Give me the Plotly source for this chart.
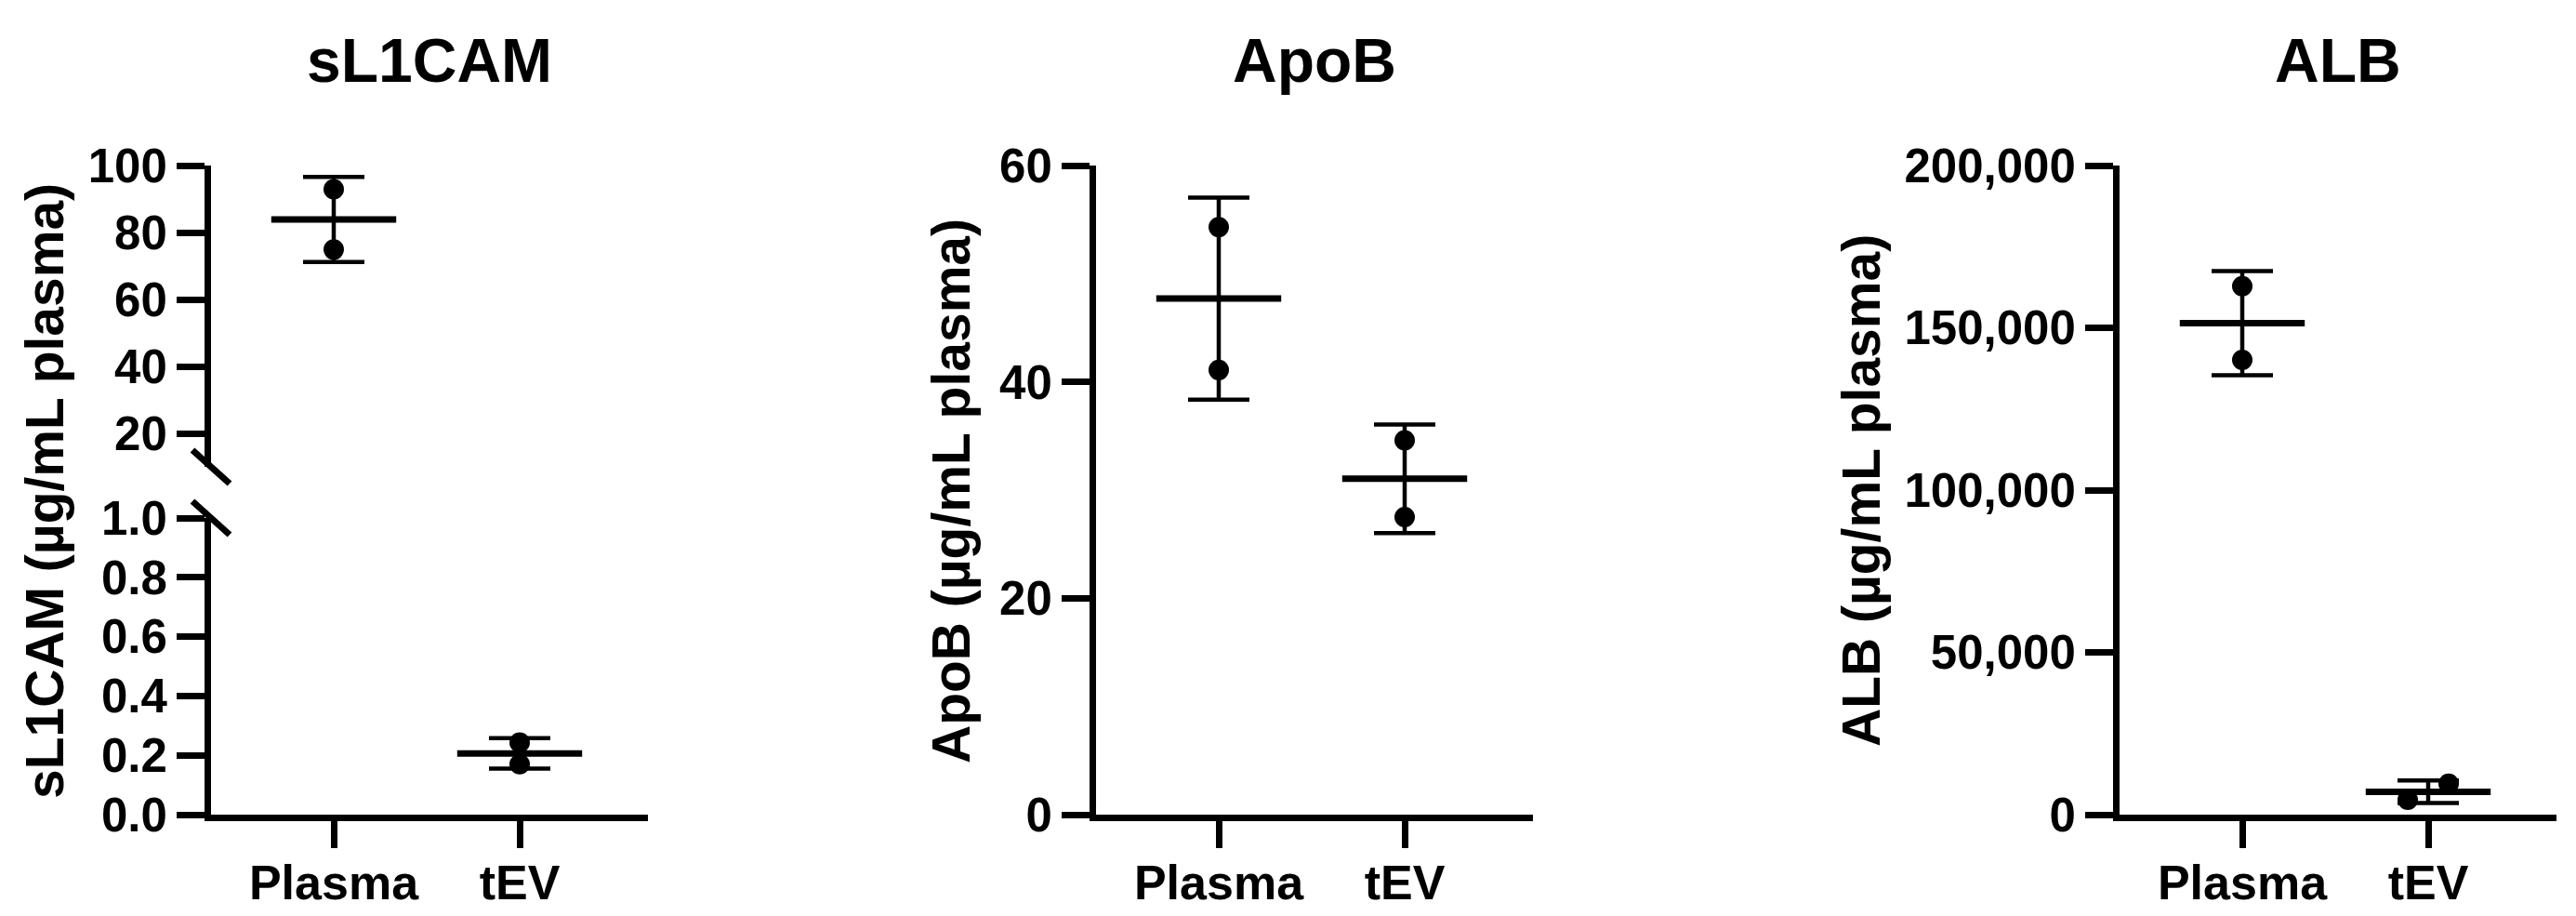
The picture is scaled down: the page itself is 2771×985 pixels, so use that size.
import numpy as np
import plotly.graph_objects as go

# data (µg/mL plasma), two replicates per group
groups = ['Plasma', 'tEV']
sl1cam_plasma = [92.9, 74.9]
sl1cam_tev = [0.243, 0.170]
apob_plasma = [54.3, 41.1]
apob_tev = [34.6, 27.5]
alb_plasma = [162800, 140100]
alb_tev = [4600, 9500]

# page has an 8px body margin, so the figure is a bit smaller than the window
PAGE_W, PAGE_H, OFF = 2771, 985, 8
W, H = PAGE_W - 2 * OFF, PAGE_H - 2 * OFF
FONT = 'Liberation Sans, Arial, sans-serif'

def px_x(p):
    return (p - OFF) / W

def px_y(p):
    return 1 - (p - OFF) / H

# layout in page pixels
x_dom = [(227, 697), (1179, 1649), (2280, 2750)]
y_full = (178, 876)
y_upper = (178, 502)
y_lower = (557, 876)
x_range = [-0.66, 1.69]

fig = go.Figure()

def add_group(vals, idx, xa, ya, offsets=None):
    """mean line + SD error bar + replicate dots"""
    m = float(np.mean(vals))
    sd = float(np.std(vals, ddof=1))
    fig.add_trace(go.Scatter(
        x=[idx], y=[m], mode='markers', xaxis=xa, yaxis=ya,
        marker=dict(symbol='line-ew', size=96, color='black',
                    line=dict(width=7, color='black')),
        error_y=dict(type='data', array=[sd], width=33, thickness=4.5, color='black'),
        showlegend=False, cliponaxis=False
    ))
    if offsets is None:
        offsets = [0] * len(vals)
    fig.add_trace(go.Scatter(
        x=[idx + o for o in offsets], y=vals, mode='markers', xaxis=xa, yaxis=ya,
        marker=dict(size=22, color='black'),
        showlegend=False, cliponaxis=False
    ))

# sL1CAM: plasma on the upper segment, tEV on the lower one
add_group(sl1cam_plasma, 0, 'x4', 'y4')
add_group(sl1cam_tev, 1, 'x', 'y')
# ApoB
add_group(apob_plasma, 0, 'x2', 'y2')
add_group(apob_tev, 1, 'x2', 'y2')
# ALB
add_group(alb_plasma, 0, 'x3', 'y3')
add_group(alb_tev, 1, 'x3', 'y3', offsets=[-0.11, 0.11])

axis_common = dict(
    showline=True, linewidth=7, linecolor='black',
    ticks='outside', tickwidth=7, tickcolor='black',
    showgrid=False, zeroline=False, automargin=False,
    tickfont=dict(family=FONT, size=51, color='black', weight='bold')
)

def xaxis_cfg(i, anchor):
    a, b = x_dom[i]
    return dict(axis_common, domain=[px_x(a), px_x(b)], range=x_range,
                tickvals=[0, 1], ticktext=groups, ticklen=29, anchor=anchor,
                ticklabelstandoff=-7,
                tickfont=dict(family=FONT, size=52, color='black', weight='bold'))

fig.update_layout(
    template='none',
    width=W, height=H,
    margin=dict(l=0, r=0, t=0, b=0, autoexpand=False),
    paper_bgcolor='white', plot_bgcolor='white',
    font=dict(family=FONT, size=51, color='black', weight='bold'),
    xaxis=xaxis_cfg(0, 'y'),
    yaxis=dict(axis_common, domain=[px_y(y_lower[1]), px_y(y_lower[0])],
               range=[0, 1.0], tickvals=[0, 0.2, 0.4, 0.6, 0.8, 1.0],
               tickformat='.1f', ticklen=30, anchor='x'),
    xaxis4=dict(domain=[px_x(x_dom[0][0]), px_x(x_dom[0][1])], range=x_range,
                visible=False, anchor='y4'),
    yaxis4=dict(axis_common, domain=[px_y(y_upper[1]), px_y(y_upper[0])],
                range=[10, 100], tickvals=[20, 40, 60, 80, 100],
                ticklen=30, anchor='x4'),
    xaxis2=xaxis_cfg(1, 'y2'),
    yaxis2=dict(axis_common, domain=[px_y(y_full[1]), px_y(y_full[0])],
                range=[0, 60], tickvals=[0, 20, 40, 60], ticklen=30, anchor='x2'),
    xaxis3=xaxis_cfg(2, 'y3'),
    yaxis3=dict(axis_common, domain=[px_y(y_full[1]), px_y(y_full[0])],
                range=[0, 200000], tickvals=[0, 50000, 100000, 150000, 200000],
                tickformat=',d', ticklen=30, anchor='x3'),
)

# axis break marks on the sL1CAM y axis
for yref, yanc in [('y4 domain', 0), ('y domain', 1)]:
    fig.add_shape(type='line', xref='x domain', yref=yref,
                  xsizemode='pixel', xanchor=0, x0=-20, x1=20,
                  ysizemode='pixel', yanchor=yanc, y0=18, y1=-18,
                  line=dict(color='black', width=7))

# panel titles
titles = ['sL1CAM', 'ApoB', 'ALB']
for i, t in enumerate(titles):
    a, b = x_dom[i]
    fig.add_annotation(text=t, xref='paper', yref='paper',
                       x=px_x((a + b) / 2), y=px_y(65), showarrow=False,
                       xanchor='center', yanchor='middle',
                       font=dict(family=FONT, size=66, color='black', weight='bold'))

# y axis titles
ytitles = ['sL1CAM (µg/mL plasma)', 'ApoB (µg/mL plasma)', 'ALB (µg/mL plasma)']
ytitle_x = [48, 1023, 2002]
for t, xp in zip(ytitles, ytitle_x):
    fig.add_annotation(text=t, xref='paper', yref='paper',
                       x=px_x(xp), y=px_y(528), showarrow=False, textangle=-90,
                       xanchor='center', yanchor='middle',
                       font=dict(family=FONT, size=57, color='black', weight='bold'))

fig.write_html("out.html")
